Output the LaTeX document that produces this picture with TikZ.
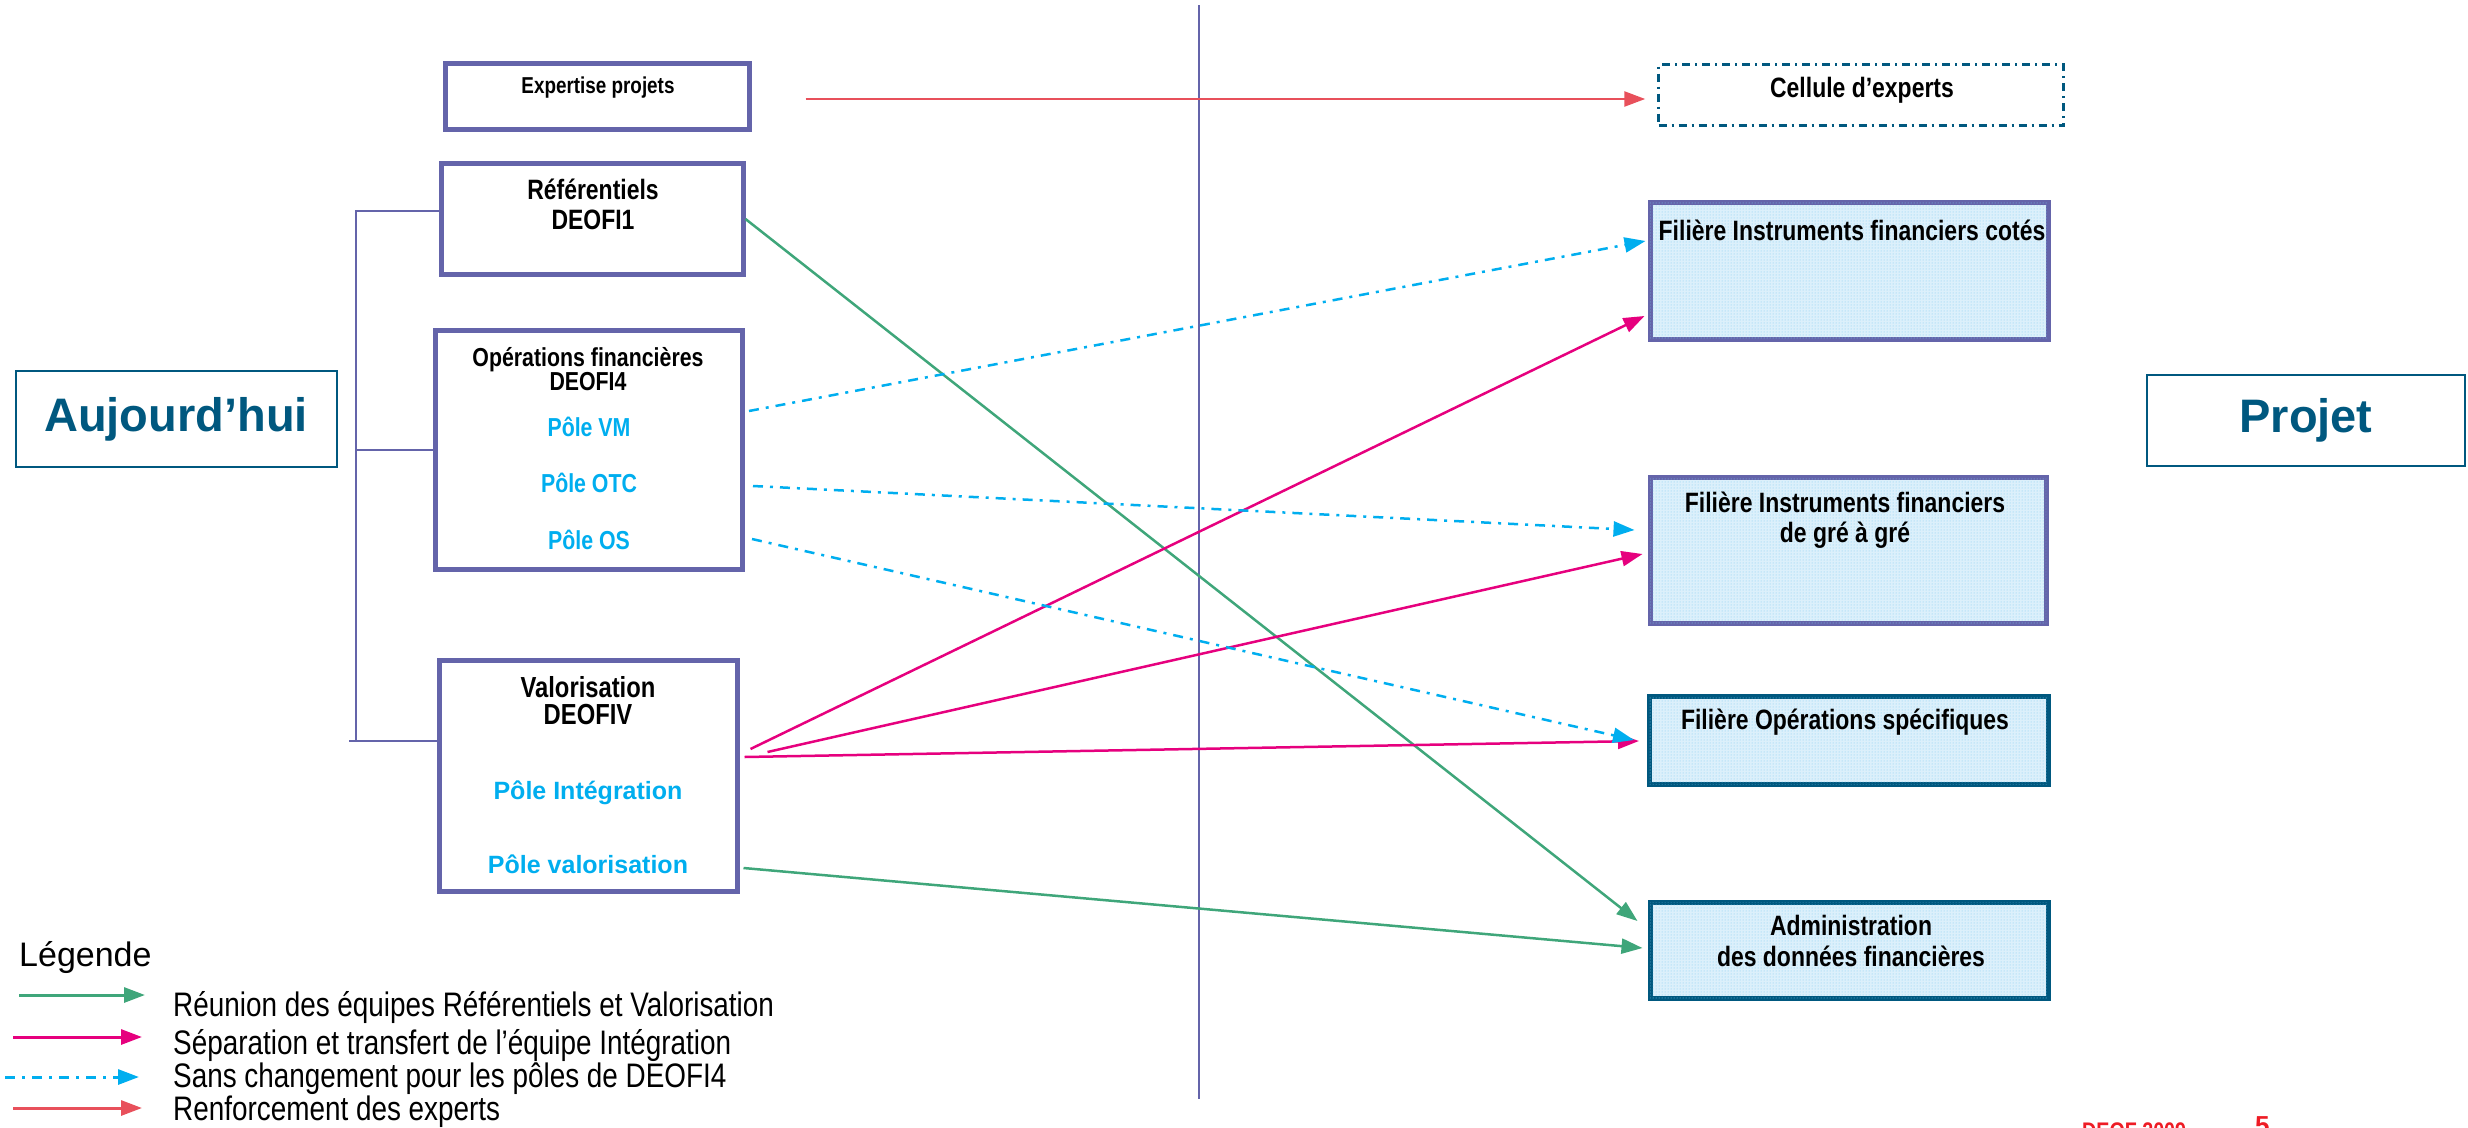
\documentclass[tikz,border=0pt]{standalone}
\usepackage{fontspec}
\setmainfont{Liberation Sans}
\newfontfamily\narrowfont[FakeStretch=0.82]{Liberation Sans}
\usetikzlibrary{arrows.meta,patterns}
\definecolor{boxpurple}{HTML}{6464AA}
\definecolor{deepblue}{HTML}{00587F}
\definecolor{poleblue}{HTML}{00AEEF}
\definecolor{reuniongreen}{HTML}{3FA67A}
\definecolor{transfertpink}{HTML}{E6007E}
\definecolor{expertred}{HTML}{E8505B}
\definecolor{dotblue}{HTML}{7CCBF2}
\definecolor{paleblue}{HTML}{DCF0FB}
\definecolor{footred}{HTML}{EE1C25}

\tikzset{
  oldbox/.style={draw=boxpurple, line width=5pt, fill=white},
  newbox/.style={draw=#1, line width=5pt, fill=paleblue, postaction={pattern=dots, pattern color=dotblue}},
  sidebox/.style={draw=deepblue, line width=2pt, text=deepblue, font=\bfseries\fontsize{47}{50}\selectfont},
  boxlabel/.style={inner sep=0pt, align=center, font=\narrowfont\bfseries\fontsize{28}{30}\selectfont},
  polelabel/.style={inner sep=0pt, text=poleblue, font=\bfseries\fontsize{25}{27}\selectfont},
  flow/.style={line width=2.5pt, -{Triangle[length=21pt,width=15pt]}},
  reunion/.style={flow, draw=reuniongreen},
  transfert/.style={flow, draw=transfertpink},
  inchange/.style={flow, draw=poleblue, dash pattern=on 10pt off 7pt on 3pt off 7pt},
  renfort/.style={flow, draw=expertred},
  legendtext/.style={anchor=west, inner sep=0pt, font=\narrowfont\fontsize{34}{36}\selectfont},
}

\begin{document}
\begin{tikzpicture}[x=1pt,y=-1pt]
  \useasboundingbox (0,0) rectangle (2468,1127);

  % Separation today / project
  \coordinate (divtop) at (1199,5);
  \coordinate (divbot) at (1199,1099);
  \draw[boxpurple, line width=2pt] (divtop) -- (divbot);

  % Side titles
  \node[sidebox, minimum width=321pt, minimum height=96pt] (today) at (176,419) {Aujourd’hui};
  \node[sidebox, minimum width=318pt, minimum height=91pt] (proj) at (2306,420) {Projet};

  % Today: current teams
  \node[oldbox, minimum width=304pt, minimum height=66pt] (expert) at (597,96) {};
  \node[oldbox, minimum width=302pt, minimum height=111pt] (ref) at (592,219) {};
  \node[oldbox, minimum width=307pt, minimum height=239pt] (ops) at (589,450) {};
  \node[oldbox, minimum width=298pt, minimum height=231pt] (val) at (588,776) {};

  \node[boxlabel, font=\narrowfont\bfseries\fontsize{23}{25}\selectfont] (expertT) at (598,88) {Expertise projets};
  \node[boxlabel] (refT) at (593,204) {Référentiels\\DEOFI1};
  \node[boxlabel, font=\narrowfont\bfseries\fontsize{26}{24}\selectfont] (opsT) at (588,369) {Opérations financières\\DEOFI4};
  \node[polelabel, font=\narrowfont\bfseries\fontsize{26}{27}\selectfont] (vmT) at (589,427) {Pôle VM};
  \node[polelabel, font=\narrowfont\bfseries\fontsize{26}{27}\selectfont] (otcT) at (589,483) {Pôle OTC};
  \node[polelabel, font=\narrowfont\bfseries\fontsize{26}{27}\selectfont] (osT) at (589,540) {Pôle OS};
  \node[boxlabel, font=\narrowfont\bfseries\fontsize{29}{27}\selectfont] (valT) at (588,701) {Valorisation\\DEOFIV};
  \node[polelabel] (integT) at (588,793) {Pôle Intégration};
  \node[polelabel] (valoT) at (588,864) {Pôle valorisation};

  % Bracket joining the teams
  \coordinate (brbot) at (356,741);
  \draw[boxpurple, line width=2pt] ([yshift=8pt]ref.west) -| (brbot);
  \draw[boxpurple, line width=2pt] (ops.west) -- (ops.west -| brbot);
  \draw[boxpurple, line width=2pt] ([xshift=-7pt]brbot) -- (brbot -| val.west);

  % Project: new organisation
  \node[draw=deepblue, line width=2.5pt, dash pattern=on 8pt off 5pt on 2pt off 5pt,
        minimum width=405pt, minimum height=61pt] (cellule) at (1861,95) {};
  \node[newbox=boxpurple, minimum width=398pt, minimum height=137pt] (cotes) at (1849,271) {};
  \node[newbox=boxpurple, minimum width=396pt, minimum height=146pt] (gre) at (1848,550) {};
  \node[newbox=deepblue, minimum width=399pt, minimum height=88pt] (spec) at (1849,740) {};
  \node[newbox=deepblue, minimum width=398pt, minimum height=96pt] (admin) at (1849,950) {};

  \node[boxlabel] (celluleT) at (1862,90) {Cellule d’experts};
  \node[boxlabel] (cotesT) at (1852,230) {Filière Instruments financiers cotés};
  \node[boxlabel] (greT) at (1845,520) {Filière Instruments financiers\\de gré à gré};
  \node[boxlabel] (specT) at (1845,722) {Filière Opérations spécifiques};
  \node[boxlabel, font=\narrowfont\bfseries\fontsize{28}{31}\selectfont] (adminT) at (1851,941) {Administration\\des données financières};

  % Flows
  \draw[renfort] ([xshift=54pt,yshift=-3pt]expert.east) -- ([xshift=-12pt,yshift=-4pt]cellule.west);
  \draw[reunion] (ref.east) -- ([xshift=-10pt,yshift=29pt]admin.west);
  \draw[reunion] ([xshift=4pt,yshift=-92pt]val.east) -- ([xshift=-5pt,yshift=2pt]admin.west);
  \draw[transfert] ([xshift=11pt,yshift=27pt]val.east) -- ([xshift=-3pt,yshift=-45pt]cotes.west);
  \draw[transfert] ([xshift=28pt,yshift=24pt]val.east) -- ([xshift=-5pt,yshift=-4pt]gre.west);
  \draw[transfert] ([xshift=5pt,yshift=19pt]val.east) -- ([xshift=-8pt,yshift=-1pt]spec.west);
  \draw[inchange] ([xshift=4pt,yshift=39pt]ops.east) -- ([xshift=-2pt,yshift=30pt]cotes.west);
  \draw[inchange] ([xshift=8pt,yshift=-36pt]ops.east) -- ([xshift=-13pt,yshift=20pt]gre.west);
  \draw[inchange] ([xshift=7pt,yshift=-89pt]ops.east) -- ([xshift=-13pt]spec.west);

  % Legend
  \node[anchor=west, inner sep=0pt, font=\fontsize{34}{36}\selectfont] (legT) at (19,957) {Légende};
  \node[legendtext] (leg1) at (173,1007) {Réunion des équipes Référentiels et Valorisation};
  \node[legendtext] (leg2) at (173,1045) {Séparation et transfert de l’équipe Intégration};
  \node[legendtext] (leg3) at (173,1079) {Sans changement pour les pôles de DEOFI4};
  \node[legendtext] (leg4) at (173,1112) {Renforcement des experts};
  \draw[reunion, line width=3pt] (19,995) -- (145,995);
  \draw[transfert, line width=3pt] (13,1037) -- (142,1037);
  \draw[inchange, line width=3pt] (5,1077) -- (139,1077);
  \draw[renfort, line width=3pt] (13,1108) -- (142,1108);

  % Footer (cut by the page edge)
  \node[anchor=base west, inner sep=0pt, text=footred, font=\narrowfont\bfseries\fontsize{24}{24}\selectfont] (footT) at (2082,1139) {DEOF 2009};
  \node[anchor=base west, inner sep=0pt, text=footred, font=\bfseries\fontsize{26}{26}\selectfont] (pageT) at (2255,1134) {5};
\end{tikzpicture}
\end{document}
